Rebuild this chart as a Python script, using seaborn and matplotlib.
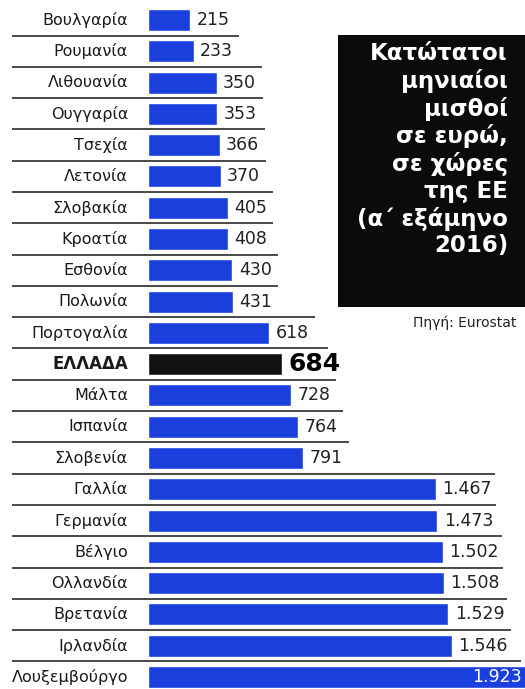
import matplotlib
matplotlib.use("Agg")
import matplotlib.pyplot as plt
from matplotlib.patches import Rectangle
import seaborn as sns
import pandas as pd

countries = ["Βουλγαρία", "Ρουμανία", "Λιθουανία", "Ουγγαρία", "Τσεχία", "Λετονία",
             "Σλοβακία", "Κροατία", "Εσθονία", "Πολωνία", "Πορτογαλία", "ΕΛΛΑΔΑ",
             "Μάλτα", "Ισπανία", "Σλοβενία", "Γαλλία", "Γερμανία", "Βέλγιο",
             "Ολλανδία", "Βρετανία", "Ιρλανδία", "Λουξεμβούργο"]
wages = [215, 233, 350, 353, 366, 370, 405, 408, 430, 431, 618, 684,
         728, 764, 791, 1467, 1473, 1502, 1508, 1529, 1546, 1923]
highlight = "ΕΛΛΑΔΑ"
title = "Κατώτατοι\nμηνιαίοι\nμισθοί\nσε ευρώ,\nσε χώρες\nτης ΕΕ\n(α΄ εξάμηνο\n2016)"
source = "Πηγή: Eurostat"

W, H, DPI = 525, 689, 100
BLUE = "#1b3fdc"
DARK = "#111111"

sns.set_theme(style="white")
plt.rcParams["font.family"] = ["DejaVu Sans"]

df = pd.DataFrame({"country": countries, "wage": wages})
colors = {c: (DARK if c == highlight else BLUE) for c in countries}

fig = plt.figure(figsize=(W / DPI, H / DPI), dpi=DPI)
fig.patch.set_facecolor("white")
ax = fig.add_axes([0, 0, 1, 1])
ax.set_facecolor("white")

sns.barplot(data=df, x="wage", y="country", hue="country", palette=colors,
            legend=False, ax=ax, width=0.7, saturation=1, orient="h")

px = 0.1965            # pixels per euro
x0 = 148               # pixel where bars start
ax.set_xlim(-x0 / px, (W - x0) / px)
row_px = 31.29
ax.set_ylim(21 + (H - 677) / row_px, -20 / row_px)
ax.axis("off")

name_x = (128 - x0) / px
line_x0 = (12 - x0) / px
n = len(countries)
for i, (c, v) in enumerate(zip(countries, wages)):
    is_hl = c == highlight
    ax.text(name_x, i, c, ha="right", va="center",
            fontsize=12 if is_hl else 11.5,
            fontweight="bold" if is_hl else "normal", color="#1a1a1a")
    label = f"{v:,}".replace(",", ".")
    if i == n - 1:
        ax.text((W - 3 - x0) / px, i, label, ha="right", va="center",
                fontsize=12.5, color="white")
    else:
        ax.annotate(label, (v, i), xytext=(4.5, 0), textcoords="offset points",
                    ha="left", va="center",
                    fontsize=18 if is_hl else 12.5,
                    fontweight="heavy" if is_hl else "normal",
                    color="black" if is_hl else "#222222")
    if i < n - 1:
        m = max(v, wages[i + 1])
        end = m + (300 if m > 1000 else 230)
        ax.plot([line_x0, min(end, 1900)], [i + 0.5, i + 0.5],
                color="#3a3a3a", lw=1.3, solid_capstyle="butt")

# title box
bx0, bx1 = 338 / W, 1.0
by0, by1 = 1 - 307 / H, 1 - 35 / H
fig.patches.append(Rectangle((bx0, by0), bx1 - bx0, by1 - by0,
                             transform=fig.transFigure, facecolor="#0b0b0b",
                             edgecolor="none", zorder=0))
fig.text(508 / W, 1 - 42 / H, title, ha="right", va="top", color="white",
         fontsize=16.5, fontweight="heavy", linespacing=1.2)
fig.text(413 / W, 1 - 323 / H, source, ha="left", va="center",
         fontsize=10, color="#222222")

fig.savefig("out.png", dpi=DPI)
